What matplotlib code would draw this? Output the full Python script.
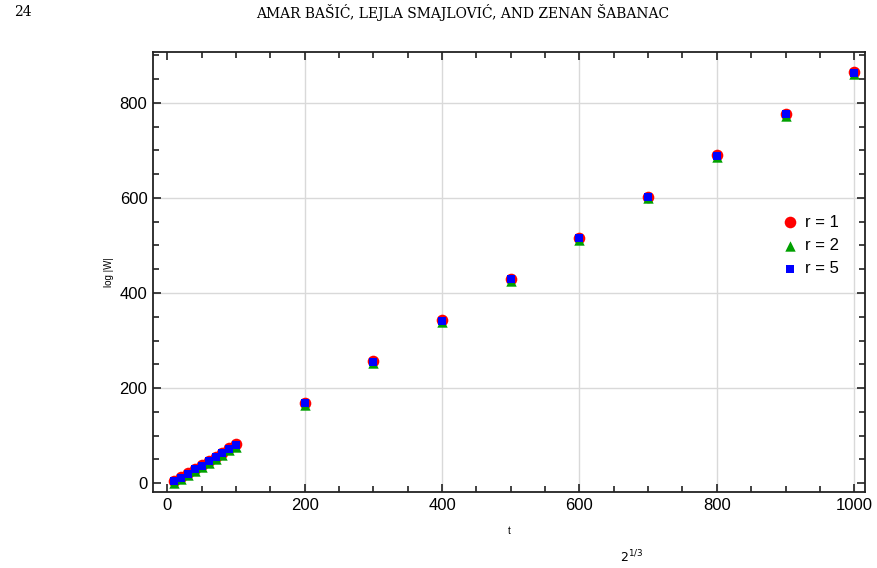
import matplotlib.pyplot as plt
from matplotlib.ticker import MultipleLocator

plt.rcParams['font.family'] = ['Liberation Sans', 'DejaVu Sans']

# data
t = [10, 20, 30, 40, 50, 60, 70, 80, 90, 100,
     200, 300, 400, 500, 600, 700, 800, 900, 1000]
logW_r1 = [5, 13, 21, 30, 38, 47, 56, 64, 73, 82,
           169, 256, 343, 430, 516, 603, 690, 777, 864]
logW_r2 = [0, 8, 17, 25, 34, 43, 51, 60, 69, 77,
           165, 252, 339, 426, 512, 599, 686, 773, 860]
logW_r5 = [4, 12, 20, 29, 37, 46, 55, 63, 72, 81,
           168, 255, 342, 429, 515, 602, 689, 776, 863]

x_major = [0, 200, 400, 600, 800, 1000]
y_major = [0, 200, 400, 600, 800]

fig = plt.figure(figsize=(8.77, 5.68), dpi=100)
ax = fig.add_axes([0.1745, 0.1338, 0.812, 0.7747])

# light grid lines at the major ticks (not at zero)
for xv in x_major[1:]:
    ax.axvline(xv, color='#d9d9d9', lw=1.0, zorder=0)
for yv in y_major[1:]:
    ax.axhline(yv, color='#d9d9d9', lw=1.0, zorder=0)

ax.scatter(t, logW_r1, marker='o', s=70, color='#ff0000', lw=0, label='r = 1', zorder=3)
ax.scatter(t, logW_r2, marker='^', s=56, color='#00a000', lw=0, label='r = 2', zorder=4)
ax.scatter(t, logW_r5, marker='s', s=34, color='#0000ff', lw=0, label='r = 5', zorder=5)

ax.set_xlim(-21, 1016)
ax.set_ylim(-18.5, 907)
ax.set_xticks(x_major)
ax.set_yticks(y_major)
ax.xaxis.set_minor_locator(MultipleLocator(50))
ax.yaxis.set_minor_locator(MultipleLocator(50))
ax.tick_params(which='both', direction='in', top=True, right=True,
               labelsize=12, width=1.2, color='#222222')
ax.tick_params(which='major', length=6, pad=4)
ax.tick_params(which='minor', length=4)
for sp in ax.spines.values():
    sp.set_linewidth(1.3)
    sp.set_color('#222222')

ax.set_xlabel('t', fontsize=7, labelpad=10)
ax.set_ylabel('log |W|', fontsize=7, labelpad=4)

ax.legend(loc='center right', bbox_to_anchor=(0.985, 0.56), frameon=False,
          fontsize=12, handletextpad=0.35, labelspacing=0.5, markerscale=1.0,
          handlelength=1.2)

# page header and bottom text
fig.text(0.016, 0.978, '24', fontsize=10, family='DejaVu Serif', va='center')
fig.text(0.527, 0.978, 'AMAR BAŠIĆ, LEJLA SMAJLOVIĆ, AND ZENAN ŠABANAC',
         fontsize=10, family='DejaVu Serif', ha='center', va='center')
fig.text(0.72, 0.004, r'$2^{1/3}$', fontsize=9, ha='center', va='bottom')

fig.savefig('out.png', dpi=100)
